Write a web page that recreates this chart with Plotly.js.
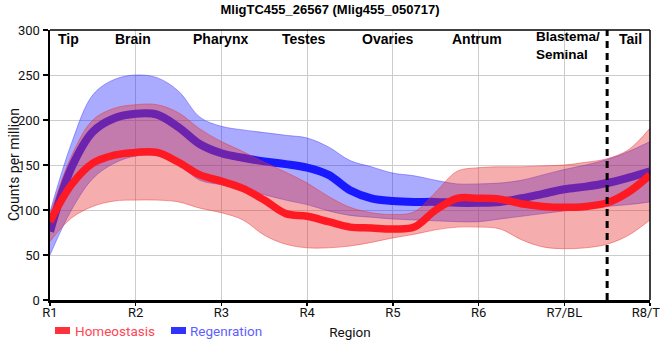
<!DOCTYPE html>
<html>
<head>
<meta charset="utf-8">
<script src="https://cdn.plot.ly/plotly-3.0.1.min.js"></script>
<style>html,body{margin:0;padding:0;background:#fff;}#chart{width:660px;height:360px;}</style>
</head>
<body>
<div id="chart"></div>
<script>
// Region tick labels (category positions 0..7)
const regionTicks = ['R1','R2','R3','R4','R5','R6','R7/BL','R8/TP'];
const regionTickPos = [0,1,2,3,4,5,6,7];
// Anatomical labels along the top
const anatomyLabels = ['Tip','Brain','Pharynx','Testes','Ovaries','Antrum','Tail'];
const anatomyPos = [0.22,0.97,1.99,2.96,3.94,4.98,6.77];
const blastemaLabel = 'Blastema/<br>Seminal';
const blastemaPos = 5.65;
const dividerAt = 6.5;

// Sample positions along the body (at quarter-region steps)
const pos = [0,0.25,0.5,0.75,1,1.25,1.5,1.75,2,2.25,2.5,2.75,3,3.25,3.5,3.75,4,4.25,4.5,4.75,5,5.25,5.5,5.75,6,6.25,6.5,6.75,7];

// Homeostasis (red)
const homeoMean  = [87,128,152,161,164,164,153,139,132,124,111,96,93,87,81,80,79,81,100,113,113,112,107,104,103,104,108,120,139];
const homeoUpper = [95,160,200,213,217,217,208,190,176,165,153,142,130,115,103,97,95,98,120,143,147,148,148,149,150,153,157,167,191];
const homeoLower = [65,91,104,110,111,111,109,102,97,89,72,62,58,58,60,64,69,73,78,81,81,79,67,59,57,58,62,72,89];

// Regeneration (blue)
const regenMean  = [76,147,187,202,207,206,192,173,163,158,154,151,147,139,122,113,110,109,109,108,108,109,113,118,123,126,130,136,143];
const regenUpper = [98,174,228,245,250,247,232,203,193,189,186,183,180,170,155,148,141,138,133,129,129,130,133,139,145,150,156,165,176];
const regenLower = [50,100,135,152,160,160,150,133,128,123,117,111,106,99,94,92,90,89,88,87,87,90,93,96,99,101,104,106,109];

const seriesNames = ['Homeostasis','Regenration'];

const redFill = 'rgba(232,50,50,0.4)';
const redEdge = 'rgba(232,50,50,0.45)';
const blueFill = 'rgba(20,20,255,0.36)';
const blueEdge = 'rgba(60,60,255,0.45)';

const traces = [
  {x: pos, y: regenLower, type:'scatter', mode:'lines', line:{shape:'spline', color: blueEdge, width:1}, showlegend:false, hoverinfo:'skip'},
  {x: pos, y: regenUpper, type:'scatter', mode:'lines', fill:'tonexty', fillcolor: blueFill, line:{shape:'spline', color: blueEdge, width:1}, showlegend:false, hoverinfo:'skip'},
  {x: pos, y: regenMean, type:'scatter', mode:'lines', name: seriesNames[1], line:{shape:'spline', color:'rgb(25,25,255)', width:8}, showlegend:false},
  {x: pos, y: homeoLower, type:'scatter', mode:'lines', line:{shape:'spline', color: redEdge, width:1}, showlegend:false, hoverinfo:'skip'},
  {x: pos, y: homeoUpper, type:'scatter', mode:'lines', fill:'tonexty', fillcolor: redFill, line:{shape:'spline', color: redEdge, width:1}, showlegend:false, hoverinfo:'skip'},
  {x: pos, y: homeoMean, type:'scatter', mode:'lines', name: seriesNames[0], line:{shape:'spline', color:'rgb(255,25,35)', width:7.5}, showlegend:false}
];

const boldFont = {family:'"Liberation Sans", Arial, sans-serif', size:14, color:'#000'};
const annotations = anatomyLabels.map((t,i)=>({
  text:'<b>'+t+'</b>', x: anatomyPos[i], xref:'x', y:(300-39)/270, yref:'paper',
  xanchor:'center', yanchor:'middle', showarrow:false, font: boldFont
}));
annotations.push({
  text:'<b>'+blastemaLabel+'</b>', x: blastemaPos, xref:'x', y:(300-46)/270, yref:'paper',
  xanchor:'left', yanchor:'middle', align:'left', showarrow:false,
  font: Object.assign({}, boldFont, {size:13.5})
});
// Y axis title
annotations.push({text:'Counts per million', x:(14-50)/600, xref:'paper', y:0.5, yref:'paper', xanchor:'center', yanchor:'middle', textangle:-90, showarrow:false, font:{family:'Roboto, sans-serif', size:14, color:'#111'}});
// Legend drawn as annotations + swatches
const legFont = {family:'Roboto, sans-serif', size:13.5};
annotations.push({text: seriesNames[0], x:(73-50)/600, xref:'paper', y:(300-331)/270, yref:'paper', xanchor:'left', yanchor:'middle', showarrow:false, font:Object.assign({}, legFont, {color:'rgb(255,70,85)'})});
annotations.push({text: seriesNames[1], x:(188-50)/600, xref:'paper', y:(300-331)/270, yref:'paper', xanchor:'left', yanchor:'middle', showarrow:false, font:Object.assign({}, legFont, {color:'rgb(95,95,255)'})});

const shapes = [
  {type:'line', xref:'x', yref:'paper', x0:dividerAt, x1:dividerAt, y0:0, y1:1, line:{color:'#000', width:3, dash:'7px,5px'}, layer:'above'},
  {type:'line', xref:'paper', yref:'paper', x0:0, x1:1, y0:1, y1:1, line:{color:'#000', width:1.5}, layer:'above'},
  {type:'line', xref:'paper', yref:'paper', x0:1, x1:1, y0:0, y1:1, line:{color:'#000', width:1.5}, layer:'above'},
  {type:'rect', xref:'paper', yref:'paper', x0:(55-50)/600, x1:(70-50)/600, y0:(300-327)/270, y1:(300-334)/270, fillcolor:'rgb(255,50,60)', line:{width:0}},
  {type:'rect', xref:'paper', yref:'paper', x0:(171-50)/600, x1:(186-50)/600, y0:(300-327)/270, y1:(300-334)/270, fillcolor:'rgb(50,50,255)', line:{width:0}}
];

const tickFont = {family:'Roboto, sans-serif', size:13, color:'#111'};
const layout = {
  width:660, height:360,
  margin:{l:50, r:10, t:30, b:60},
  paper_bgcolor:'#fff', plot_bgcolor:'#fff',
  showlegend:false,
  title:{text:'<b>MligTC455_26567 (Mlig455_050717)</b>', font:{family:'"Liberation Sans", Arial, sans-serif', size:13, color:'#000'}, x:0.5, xanchor:'center', y:1-9/360, yanchor:'middle'},
  xaxis:{range:[0,7], tickvals: regionTickPos, ticktext: regionTicks, showgrid:true, gridcolor:'#cccccc', gridwidth:1,
    zeroline:false, showline:true, linecolor:'#000', linewidth:2.5, ticks:'outside', ticklen:3, tickwidth:1.5, tickcolor:'#000',
    ticklabeloverflow:'allow', ticklabelstandoff:-4,
    tickfont: tickFont, title:{text:'Region', font:{family:'Roboto, sans-serif', size:13.5, color:'#111'}, standoff:9}, automargin:false},
  yaxis:{range:[0,300], dtick:50, showgrid:true, gridcolor:'#cccccc', gridwidth:1,
    zeroline:false, showline:true, linecolor:'#000', linewidth:2.5, ticks:'outside', ticklen:5, tickwidth:1.5, tickcolor:'#000',
    tickfont: tickFont, automargin:false},
  annotations: annotations,
  shapes: shapes
};

Plotly.newPlot('chart', traces, layout, {displayModeBar:false, staticPlot:true});
</script>
</body>
</html>
